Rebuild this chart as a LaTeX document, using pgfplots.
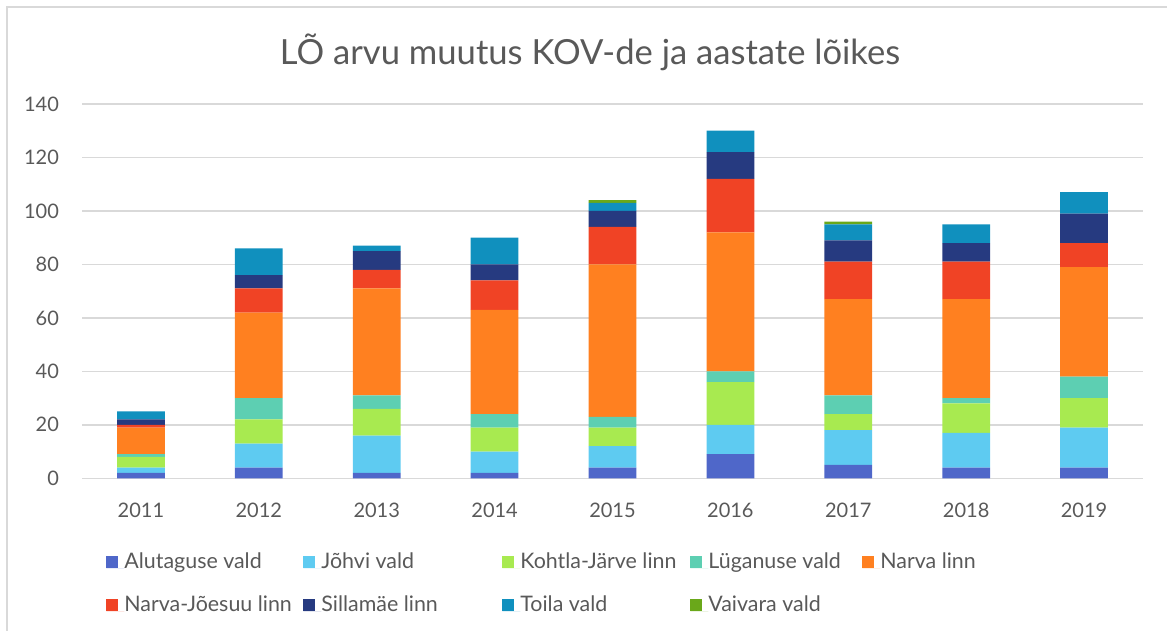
\documentclass[border=0pt]{standalone}
\usepackage{pgfplots}
\pgfplotsset{compat=1.18}
\usepackage{fontspec}
\setmainfont{Lato}
\definecolor{txt}{HTML}{595959}
\definecolor{grd}{HTML}{D9D9D9}
\definecolor{cA}{HTML}{4F67C9}
\definecolor{cB}{HTML}{5ECBF1}
\definecolor{cC}{HTML}{A8EA50}
\definecolor{cD}{HTML}{5DCFB2}
\definecolor{cE}{HTML}{FF8020}
\definecolor{cF}{HTML}{F04325}
\definecolor{cG}{HTML}{263A80}
\definecolor{cH}{HTML}{1090BE}
\definecolor{cI}{HTML}{6AA81A}
\begin{document}
\begin{tikzpicture}
\useasboundingbox (0,0) rectangle (583.5pt,315.5pt);
\draw[grd, line width=0.8pt] (3.5pt,-1pt) -- (3.5pt,312pt) -- (590pt,312pt);
\node[txt, font=\fontsize{17.3}{20}\selectfont, anchor=base] at (295pt,283pt) {LÕ arvu muutus KOV-de ja aastate lõikes};
\begin{axis}[
  at={(41pt,76.35pt)}, anchor=south west,
  scale only axis, width=530.5pt, height=187.15pt,
  ybar stacked, bar width=0.405,
  xmin=-0.5, xmax=8.5, ymin=0, ymax=140,
  xtick={0,...,8},
  xticklabels={2011,2012,2013,2014,2015,2016,2017,2018,2019},
  ytick={0,20,...,140},
  axis line style={draw=none},
  major tick length=0pt,
  ymajorgrids, grid style={grd, line width=0.75pt},
  tick label style={txt, font=\fontsize{10}{12}\selectfont},
  /pgf/number format/assume math mode=true,
  xticklabel style={yshift=-9pt},
  yticklabel style={xshift=-8pt},
  legend columns=5,
  legend cell align=left,
  legend style={draw=none, fill=none, at={(0.0170,-0.2837)}, anchor=west,
    nodes={inner sep=0pt, anchor=base west, text=txt, font=\fontsize{10.7}{12}\selectfont, text height=8pt, text depth=2.5pt},
    /tikz/every even column/.append style={column sep=0pt},
    /tikz/every odd column/.append style={column sep=0pt},
    row sep=11pt},
  legend image code/.code={\fill[#1] (0pt,0pt) rectangle (6pt,6pt); \path (0pt,0pt) -- (9pt,0pt);},
  every axis plot/.append style={draw=none},
]
% Alutaguse vald
\addplot[fill=cA] coordinates {(0,2) (1,4) (2,2) (3,2) (4,4) (5,9) (6,5) (7,4) (8,4)};
% Johvi vald
\addplot[fill=cB] coordinates {(0,2) (1,9) (2,14) (3,8) (4,8) (5,11) (6,13) (7,13) (8,15)};
% Kohtla-Jarve linn
\addplot[fill=cC] coordinates {(0,4) (1,9) (2,10) (3,9) (4,7) (5,16) (6,6) (7,11) (8,11)};
% Luganuse vald
\addplot[fill=cD] coordinates {(0,1) (1,8) (2,5) (3,5) (4,4) (5,4) (6,7) (7,2) (8,8)};
% Narva linn
\addplot[fill=cE] coordinates {(0,10) (1,32) (2,40) (3,39) (4,57) (5,52) (6,36) (7,37) (8,41)};
% Narva-Joesuu linn
\addplot[fill=cF] coordinates {(0,1) (1,9) (2,7) (3,11) (4,14) (5,20) (6,14) (7,14) (8,9)};
% Sillamae linn
\addplot[fill=cG] coordinates {(0,2) (1,5) (2,7) (3,6) (4,6) (5,10) (6,8) (7,7) (8,11)};
% Toila vald
\addplot[fill=cH] coordinates {(0,3) (1,10) (2,2) (3,10) (4,3) (5,8) (6,6) (7,7) (8,8)};
% Vaivara vald
\addplot[fill=cI] coordinates {(0,0) (1,0) (2,0) (3,0) (4,1) (5,0) (6,1) (7,0) (8,0)};
\legend{\makebox[89.5pt][l]{Alutaguse vald},\makebox[90.5pt][l]{Jõhvi vald},\makebox[85pt][l]{Kohtla-Järve linn},\makebox[77pt][l]{Lüganuse vald},Narva linn,
\makebox[89.5pt][l]{Narva-Jõesuu linn},\makebox[90.5pt][l]{Sillamäe linn},\makebox[85pt][l]{Toila vald},\makebox[77pt][l]{Vaivara vald}}
\end{axis}
\end{tikzpicture}
\end{document}
